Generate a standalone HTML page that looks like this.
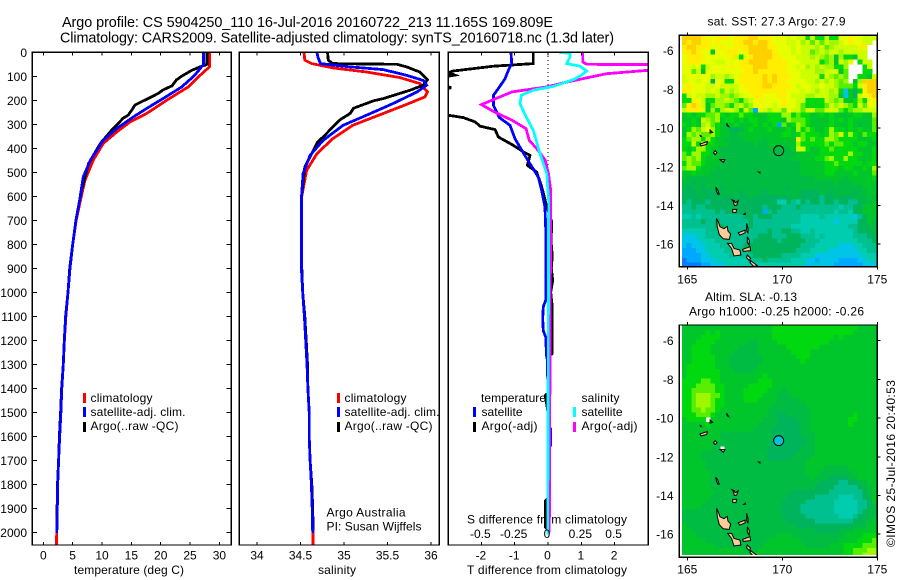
<!DOCTYPE html>
<html lang="en">
<head>
<meta charset="utf-8">
<title>Argo profile</title>
<style>
html,body{margin:0;padding:0;background:#fff;}
svg{display:block;}
text{font-family:"Liberation Sans",sans-serif;font-size:12px;fill:#000;}
.t14{font-size:14.4px;}
.mid{text-anchor:middle;}
.end{text-anchor:end;}
</style>
</head>
<body>
<svg id="chart" xmlns="http://www.w3.org/2000/svg" width="900" height="580" viewBox="0 0 900 580">
<defs>
<clipPath id="clip-t"><rect x="32" y="52" width="199" height="493"/></clipPath>
<clipPath id="clip-s"><rect x="239" y="52" width="200" height="493"/></clipPath>
<clipPath id="clip-d"><rect x="448" y="52" width="200" height="493"/></clipPath>
<clipPath id="clip-m1"><rect x="679" y="35" width="198" height="231"/></clipPath>
<clipPath id="clip-m2"><rect x="679" y="325" width="198" height="230"/></clipPath>
</defs>
<rect x="0" y="0" width="900" height="580" fill="#fff"/>
<text class="t14" x="62" y="27" textLength="491" lengthAdjust="spacing">Argo profile: CS 5904250_110 16-Jul-2016 20160722_213 11.165S 169.809E</text>
<text class="t14" x="60" y="42.5" textLength="554" lengthAdjust="spacing">Climatology: CARS2009. Satellite-adjusted climatology: synTS_20160718.nc (1.3d later)</text>

<text x="74" y="574" textLength="110" lengthAdjust="spacing">temperature (deg C)</text>
<text x="318" y="574" textLength="38" lengthAdjust="spacing">salinity</text>
<text x="467" y="574" textLength="160" lengthAdjust="spacing">T difference from climatology</text>
<text x="467" y="523.5" textLength="160" lengthAdjust="spacing">S difference from climatology</text>

<g>
<rect x="83" y="393" width="3" height="10" fill="#f00"/>
<rect x="83" y="407" width="3" height="10" fill="#00f"/>
<rect x="83" y="422" width="3" height="10" fill="#000"/>
<text x="90.5" y="402" textLength="62" lengthAdjust="spacing">climatology</text>
<text x="90.5" y="416" textLength="95" lengthAdjust="spacing">satellite-adj. clim.</text>
<text x="90.5" y="430" textLength="88" lengthAdjust="spacing">Argo(..raw -QC)</text>
</g>
<g>
<rect x="337" y="393" width="3" height="10" fill="#f00"/>
<rect x="337" y="407" width="3" height="10" fill="#00f"/>
<rect x="337" y="422" width="3" height="10" fill="#000"/>
<text x="344.5" y="402" textLength="62" lengthAdjust="spacing">climatology</text>
<text x="344.5" y="416" textLength="95" lengthAdjust="spacing">satellite-adj. clim.</text>
<text x="344.5" y="430" textLength="88" lengthAdjust="spacing">Argo(..raw -QC)</text>
</g>
<text x="326.5" y="516.5" textLength="79" lengthAdjust="spacing">Argo Australia</text>
<text x="326.5" y="530.5" textLength="95" lengthAdjust="spacing">PI: Susan Wijffels</text>
<g>
<rect x="473" y="407" width="3" height="10" fill="#00f"/>
<rect x="473" y="422" width="3" height="10" fill="#000"/>
<rect x="573" y="407" width="3" height="10" fill="#0ff"/>
<rect x="573" y="422" width="3" height="10" fill="#f0f"/>
<text x="481" y="402" textLength="65" lengthAdjust="spacing">temperature</text>
<text x="481.5" y="416" textLength="41" lengthAdjust="spacing">satellite</text>
<text x="481.5" y="430" textLength="56" lengthAdjust="spacing">Argo(-adj)</text>
<text x="581.5" y="402" textLength="38" lengthAdjust="spacing">salinity</text>
<text x="581.5" y="416" textLength="41" lengthAdjust="spacing">satellite</text>
<text x="581.5" y="430" textLength="56" lengthAdjust="spacing">Argo(-adj)</text>
</g>

<text x="707.5" y="25.5" textLength="138" lengthAdjust="spacing">sat. SST: 27.3 Argo: 27.9</text>
<text x="705" y="301" textLength="92" lengthAdjust="spacing">Altim. SLA: -0.13</text>
<text x="689" y="315.5" textLength="175" lengthAdjust="spacing">Argo h1000: -0.25 h2000: -0.26</text>
<text transform="translate(895,547) rotate(-90)" x="0" y="0" textLength="167" lengthAdjust="spacing">©IMOS 25-Jul-2016 20:40:53</text>
<g id="plots"></g>
</svg>
<script>
// Depth axis
const depthTicks = [0,100,200,300,400,500,600,700,800,900,1000,1100,1200,1300,1400,1500,1600,1700,1800,1900,2000];
const tempTicks = [0,5,10,15,20,25,30];
const salTicks = [34,34.5,35,35.5,36];
const salTickLabels = ['34','34.5','35','35.5','36'];
const diffTTicks = [-2,-1,0,1,2];
const diffSTicks = [-0.5,-0.25,0,0.25,0.5];
const diffSTickLabels = ['-0.5','-0.25','0','0.25','0.5'];
const lonTicks = [165,170,175];
const latTicks = [-6,-8,-10,-12,-14,-16];

// Temperature profiles
const tempClimDepth = [0,61,103,144,200,255,290,332,380,450,533,608,700,800,900,1000,1100,1200,1300,1400,1500,1600,1700,1800,1900,2000,2054];
const tempClimValue = [28.3,28.3,26.4,24.7,21,17.6,14.8,12.5,10.2,8.5,7.1,6.4,5.6,5.0,4.55,4.2,3.85,3.6,3.4,3.15,3.0,2.75,2.6,2.45,2.38,2.28,2.25];
const tempSatDepth = [0,50,96,144,193,234,270,318,367,450,520,608,700,800,900,1000,1100,1200,1300,1400,1500,1600,1700,1800,1900,2003];
const tempSatValue = [27.3,27.3,25.8,23.6,20.4,17.6,15.3,12.5,10.2,8,6.8,6.25,5.55,5,4.55,4.2,3.8,3.58,3.4,3.15,3.0,2.8,2.6,2.45,2.38,2.3];
const tempArgoDepth = [0,50,61,75,99,115,140,150,157,171,185,203,220,240,261,275,303,324,349,372,393,464,575,700,800,900,1000,1100,1200,1300,1400,1500,1600,1700,1800,1900,1990];
const tempArgoValue = [27.9,27.9,26.7,25.3,23.6,22.7,21.9,21.0,20.4,19.6,18.5,17.0,15.6,15.1,14.5,13.6,12.5,11.65,10.8,9.95,9.4,7.7,6.5,5.55,5,4.5,4.2,3.8,3.58,3.4,3.12,2.95,2.75,2.6,2.42,2.35,2.3];

// Salinity profiles
const salClimDepth = [0,33,47,65,82,105,130,165,186,217,255,304,360,422,492,608,900,1000,1100,1200,1300,1400,1500,1600,1700,1800,1900,2000,2054];
const salClimValue = [34.54,34.55,34.63,34.87,35.26,35.64,35.87,35.96,35.93,35.72,35.45,35.1,34.87,34.69,34.57,34.51,34.51,34.525,34.545,34.56,34.575,34.585,34.6,34.6,34.61,34.625,34.635,34.645,34.645];
const salSatDepth = [0,20,47,61,72,96,117,137,165,214,262,304,367,429,505,608,900,1000,1100,1200,1300,1400,1500,1600,1700,1800,1900,2003];
const salSatValue = [34.69,34.70,34.73,35.07,35.45,35.72,35.91,35.95,35.84,35.56,35.26,34.99,34.76,34.61,34.53,34.51,34.51,34.525,34.545,34.56,34.575,34.585,34.6,34.6,34.61,34.625,34.635,34.64];
const salArgoDepth = [0,33,47,50,61,82,114,137,158,193,202,221,233,255,282,311,331,353,372,408,478,608,900,1000,1100,1200,1300,1400,1500,1600,1700,1800,1900,1990];
const salArgoValue = [34.81,34.82,34.87,35.61,35.72,35.87,35.96,35.91,35.76,35.45,35.34,35.2,35.11,35.07,34.95,34.87,34.82,34.76,34.70,34.65,34.55,34.51,34.515,34.525,34.55,34.565,34.58,34.585,34.6,34.6,34.61,34.63,34.64,34.645];

// Differences from climatology
const diffTSatDepth = [0,47,75,110,151,179,221,272,304,360,408,464,520,575,645,770,1030,1060,1110,1160,1190,1260,1280,1420,1554,1570,1637,1650,1960];
const diffTSatValue = [-1.11,-1.09,-1.19,-1.29,-1.49,-1.64,-1.64,-1.46,-1.14,-0.99,-0.79,-0.54,-0.29,-0.19,-0.09,-0.06,-0.06,-0.14,-0.16,-0.14,-0.06,-0.05,-0.02,0,0,0.08,0.08,0.02,0];
const diffTArgoDepth = [0,47,58,78,85,95,100,108,130,148,155,200,255,262,272,290,308,322,353,388,415,429,471,499,561,630,707,760,800,850,900,950,1000,1050,1100,1150,1200,1256,1270,1420,1430,1500,1858,1870,1979,1990];
const diffTArgoValue = [-0.44,-0.44,-1.64,-2.84,-3.0,-2.8,-3,-3.3,-3.3,-2.9,-3.3,-3.4,-3.1,-3,-2.54,-2.19,-2.04,-1.59,-1.49,-1.04,-0.74,-0.54,-0.62,-0.34,-0.19,-0.06,0.11,0.1,0.1,0.13,0.1,0.14,0.08,0.12,0.13,0.12,0.13,0.12,0,0,-0.08,0,0,-0.08,-0.08,0];
const diffSArgoDepth = [0,40,50,52,65,75,89,110,124,144,165,218,249,283,318,367,401,450,505,575,2000];
const diffSArgoValue = [0.26,0.26,0.29,1.0,1.0,0.75,0.44,0.26,0.14,-0.01,-0.27,-0.5,-0.4,-0.27,-0.165,-0.14,-0.085,-0.02,0.003,0.02,0.01];
const diffSSatDepth = [0,5,20,47,58,78,96,114,142,158,179,214,262,325,422,505,617,2010];
const diffSSatValue = [0.085,0.165,0.165,0.14,0.24,0.29,0.25,0.19,0.04,-0.11,-0.2,-0.21,-0.17,-0.11,-0.06,-0.01,0.005,-0.002];

// Map colour levels, coldest to warmest ('.' = no data)
const levelCodes = '0123456789ABCDEF';
const levelColors = ['#0a7aff','#00a8ff','#00c4e8','#00ccb0','#00c090','#00b45c','#00bc42','#00c62c','#00d810','#58ee00','#a0f800','#ccff00','#e8ff00','#ffee00','#ffd000','#ffb000'];

const sstRows = [
"EEEEDDCDDDCDDDEEDDDCCCBCBB8B88B88CCDCCBBB",
"EDEEDDCDCCCDDEEDEEDCCCBBCAB9B9BAABCDCCBB.",
"DEEDDDCCDCCDDDEEEEDDCCCBCBBBAB9ABBBBBDD..",
"DDEDCC7CCDDDCDEEEEEDCCCBCBB9ABABBABBBBB..",
"CDDDDCCCCCDB8CDEEEEDDCCCBBBABA9A7A887BB..",
"CDDDCCCBBCCCDDEEEEDDDDCCCBBBB89A7BAC.8BB.",
"CCBC8BCCCCDCDDDEEEDDDDCCBCABABAA88A...8B.",
"CC9B7CCCCCCCCDDEDDDDDDCCCBBBAABBB79...88.",
"BCCCCCABBABCDDDDDEDEDDDCCBBBB8BA9A9..887B",
"BCCBCC5CC88CDDDDDEDEDDCCCCBBABABA9A.7AEEE",
"CDCCCBBCBBBBCDDDDEEDDDDCBCCBBCBBA9998BDEE",
"DDCCCBCB9BABCCDDDDDDDDCCCBCBABBAB82758DEE",
"8BCBBAABAA9ABCCDDCCCDDCBBBAABBBAA7275BCDE",
"88DCB88AABA98ABCDCCCCDCCBB8888BA9A778A8CD",
"9DEDB79AA98AB9ACCCCBCDCCB988889BABA98B9CC",
"BDDDC7A8ABBA8B91CBABB9CBB9BB99BBB989AABBB",
"7878899A8788988777888AA89887787877778877A",
"7787BA9A78878788778887A999877778787877779",
"8787AB987778777878781978A9877778777876779",
"78A9BCA87755678777877787A898778A887878779",
"7A9A99A8776677777777788789888 78A9B8A8798".replace(' ',''),
"89AA8A877666677776777777D98988AA988887778",
"88B8C8877766666766777777A8888898998878877",
"878AA8776666666666666667BB877889888887778",
"98AA8877666666666666666677777888888A88778",
"9A9A877766666666666666677777889A88A887778",
"8A998777666666666666666667777788988888788",
"9AA8777666666666666666666777778887887787A",
"77877766666666666666666667777788777787779",
"76666666666666666666666666667777776777778",
"66566666666666666666666666666666766677777",
"65665666566666666666665666666666666666777",
"55565555666656666566666665555665666656677",
"55556555555655655555555665555455655566676",
"54555455555555555555335435455455455445667",
"44544555555555555455544454444444434455777",
"44444445455555555145444444444444344356777",
"33434444444445545554444443333433333324577",
"44445445444444544444444443333333233335576",
"44444445544444544444444333333333333445566",
"33333444444444444454455443343333333345556",
"22233444444444445554445554443433333344455",
"22223334444444455555455555444333333334445",
"21222333444445555555555554443333322233444",
"11122333344444555555555544433332222223344",
"11112233334344455555544443332222222222333",
"01112223333333444544444333221222211112233",
"00001122233333333333333333223222111111222"
];

const slaRows = [
"77777777777777777778888888888888888887777",
"77777878777777777778888888888888888877777",
"77778888777777777778888888888888787777777",
"77788887777777667777888888888887777777777",
"77888877777766667777778888888777777777777",
"77888877777666667777777888877777777777777",
"77888887776666666777777788877777777777777",
"77888887776666666777777778777777777777777",
"78888887776666667777777777777777777777777",
"78888888777666677777777777777777777777777",
"78888888777777777877777777777777777777777",
"88889988777777778887777777777777777777777",
"88899998877777888887777777777777777777777",
"88999998877778888877767777777777777777777",
"889AAA99877778888777666777777777777777777",
"889AAA98877778887777666667777777777777777",
"889AAA98877777777776666666777777777777777",
"8899A998777777777766666666677777777777777",
"88899987777777777766556666677777777787777",
"78888.77777777777666555566677777777887777",
"77777877777777776666555556677777777877777",
"77777777777777766665555556677777777777777",
"77777777666666666665555556667777777777777",
"77777777666666666665555555667777777777777",
"77777776666666666655555555667777777777777",
"77777766.66666666655555556667777777777777",
"77776666666666666655555566667777777777777",
"77776666666666666655555666677777777777777",
"77777666666666666666666666777777777777777",
"77777666666666666666666666777766666777777",
"77777766666666666666666666777666666677777",
"77777766666666666666666666676665555667777",
"77777766666666666666666666666555544556677",
"77777766666666666666666666665555444445667",
"77777776666666666666666555555554444444567",
"77777766666666666666665555554444433344567",
"77777666666666666666655555444444333334457",
"77776666666666666666655554444444333334456",
"66666666666666666666655554444444333334566",
"66666666666666666666655555444444433345566",
"66666666666666666666665555554444444455667",
"76666666666666666666666655555555555566677",
"77666666666666666666666666665555566677777",
"77766666666666666666777666666666667777888",
"77777666666666666677777776666666677778889",
"77777776666666666777777777666667778888999",
"777777777777766677777777777777777788999AA",
"77777777777777777777777777777777778899AAA"
];

// Coastlines as [longitude, latitude] rings
const islandSanto = [[166.54,-14.66],[166.66,-14.92],[166.72,-15.1],[166.93,-15.2],[167.1,-15.08],[167.14,-15.33],[167.28,-15.47],[167.21,-15.75],[166.89,-15.72],[166.68,-15.5],[166.58,-15.1]];
const islandMalakula = [[167.12,-15.96],[167.33,-15.96],[167.46,-16.22],[167.77,-16.30],[167.82,-16.56],[167.46,-16.61],[167.33,-16.22]];
const islandAmbae = [[167.68,-15.41],[168.04,-15.27],[168.04,-15.41],[167.77,-15.53]];
const islandMaewo = [[168.12,-14.92],[168.2,-15.2],[168.2,-15.44],[168.13,-15.3]];
const islandPentecost = [[168.16,-15.61],[168.26,-15.8],[168.26,-16.04],[168.16,-15.9]];
const islandAmbrym = [[167.91,-16.27],[168.3,-16.13],[168.33,-16.33],[167.95,-16.37]];
const islandEpi = [[168.16,-16.56],[168.33,-16.73],[168.26,-16.85],[168.12,-16.7]];
const islandEfate = [[168.33,-16.85],[168.68,-17.1],[168.5,-17.15],[168.3,-16.95]];
const islandGaua = [[167.42,-13.78],[167.55,-13.85],[167.68,-13.75],[167.6,-13.98],[167.48,-14.0]];
const islandVanuaLava = [[167.35,-13.7],[167.5,-13.75],[167.4,-13.76]];
const islandSmallA = [[167.39,-14.2],[167.6,-14.2],[167.56,-14.37],[167.39,-14.35]];
const islandTorres = [[166.5,-13.06],[166.6,-13.2],[166.68,-13.41],[166.6,-13.41],[166.52,-13.2]];
const islandNendo = [[165.67,-10.82],[166.05,-10.69],[166.02,-10.85],[165.72,-10.92]];
const islandUtupua = [[166.72,-11.63],[166.98,-11.63],[166.9,-11.77]];
const islandVanikoro = [[166.38,-11.27],[166.47,-11.17],[166.56,-11.27],[166.47,-11.37]];
const islandDuff = [[166.2,-10.1],[166.33,-10.22],[166.2,-10.26]];
const islandTinakula = [[165.68,-10.38],[165.75,-10.42],[165.7,-10.44]];
const islandAnuta = [[167.07,-9.75],[167.18,-9.92],[167.1,-9.88]];
const islandTiny = [[168.75,-12.27],[168.82,-12.27],[168.82,-12.32]];
const islandSmallB = [[167.97,-14.46],[168.05,-14.4],[168.05,-14.46]];
const islands = [islandSanto,islandMalakula,islandAmbae,islandMaewo,islandPentecost,islandAmbrym,islandEpi,islandEfate,islandGaua,islandVanuaLava,islandSmallA,islandTorres,islandNendo,islandUtupua,islandVanikoro,islandDuff,islandTinakula,islandAnuta,islandTiny,islandSmallB];

const argoLon = [169.809];
const argoLat = [-11.165];

// Axis functions
function yDepth(d){ return 52.3 + d * 0.24; }
function xTemp(t){ return 43.3 + t * 5.87; }
function xSal(s){ return 257 + (s - 34) * 87; }
function xDiffT(t){ return 548 + t * 33.3; }
function xDiffS(s){ return 548 + s * 133.3; }
function lonX(lon){ return 687.3 + (lon - 165) * 19; }
function latY1(lat){ return 50.7 + (-6 - lat) * 19.35; }
function latY2(lat){ return 340.7 + (-6 - lat) * 19.35; }

const NS = 'http://www.w3.org/2000/svg';
const root = document.getElementById('plots');

function make(tag, attrs, parent){
  const el = document.createElementNS(NS, tag);
  for (const k in attrs) el.setAttribute(k, attrs[k]);
  (parent || root).appendChild(el);
  return el;
}

function drawBox(x0, y0, x1, y1, name){
  const el = make('rect', {x:x0, y:y0, width:x1-x0, height:y1-y0, fill:'none', stroke:'#000', 'stroke-width':1.4, 'shape-rendering':'crispEdges'});
  
  
}

function drawLine(x1, y1, x2, y2, name){
  const el = make('line', {x1:x1, y1:y1, x2:x2, y2:y2, stroke:'#000', 'stroke-width':1, 'shape-rendering':'crispEdges'});
  
  
}

function drawLabel(x, y, str, cls, name){
  const el = make('text', {x:x, y:y, 'class':cls});
  el.textContent = str;
  
  
}

function drawSeries(depths, values, xf, color, clip, name){
  const pts = depths.map(function(d, i){ return xf(values[i]).toFixed(1) + ',' + yDepth(d).toFixed(1); }).join(' ');
  const el = make('polyline', {points:pts, fill:'none', stroke:color, 'stroke-width':2.8, 'stroke-linejoin':'miter', 'shape-rendering':'crispEdges', 'clip-path':'url(#' + clip + ')'});
  
  
}

function drawHeat(rows, yf, clip, name){
  const g = make('g', {'clip-path':'url(#' + clip + ')', 'shape-rendering':'crispEdges'});
  
  
  rows.forEach(function(rowIn, r){
    const row = rowIn.padEnd(41, rowIn[rowIn.length - 1]);
    for (let c = 0; c < 41; c++){
      const idx = levelCodes.indexOf(row[c]);
      if (idx < 0) continue;
      const lon = 164.72 + c * 0.25;
      const lat = -5.2 - r * 0.25;
      const x0 = lonX(lon), x1 = lonX(lon + 0.25), y0 = yf(lat), y1 = yf(lat - 0.25);
      const cell = make('rect', {x:x0.toFixed(2), y:y0.toFixed(2), width:(x1-x0+0.3).toFixed(2), height:(y1-y0+0.3).toFixed(2), fill:levelColors[idx]}, g);
      
      
    }
  });
}

function drawIslands(yf, clip, name){
  const g = make('g', {'clip-path':'url(#' + clip + ')'});
  
  
  islands.forEach(function(ring){
    const pts = ring.map(function(p){ return lonX(p[0]).toFixed(1) + ',' + yf(p[1]).toFixed(1); }).join(' ');
    const poly = make('polygon', {points:pts, fill:'#ffcc99', stroke:'#000', 'stroke-width':1}, g);
    
    
  });
}

function drawMapFrame(yTop, yBottom, yf, labelY, name){
  drawBox(679.3, yTop, 877.3, yBottom, name + '-frame');
  lonTicks.forEach(function(lon){
    const x = lonX(lon);
    drawLine(x, yTop - 3, x, yTop, name + '-top-tick');
    drawLine(x, yBottom, x, yBottom + 3, name + '-bottom-tick');
    drawLabel(x, labelY, String(lon), 'mid', name + '-lon-label');
  });
  latTicks.forEach(function(lat){
    const y = yf(lat);
    drawLine(877.3, y, 880.3, y, name + '-right-tick');
    drawLabel(673.5, y + 4.5, String(lat), 'end', name + '-lat-label');
  });
}

// Panel frames and axes
drawSeries(tempClimDepth, tempClimValue, xTemp, '#f00', 'clip-t', 'temperature-climatology-line');
drawSeries(tempArgoDepth, tempArgoValue, xTemp, '#000', 'clip-t', 'temperature-argo-line');
drawSeries(tempSatDepth, tempSatValue, xTemp, '#00f', 'clip-t', 'temperature-satellite-line');
drawBox(32.3, 52.3, 231.3, 545, 'temperature-panel-frame');

drawSeries(salClimDepth, salClimValue, xSal, '#f00', 'clip-s', 'salinity-climatology-line');
drawSeries(salArgoDepth, salArgoValue, xSal, '#000', 'clip-s', 'salinity-argo-line');
drawSeries(salSatDepth, salSatValue, xSal, '#00f', 'clip-s', 'salinity-satellite-line');
drawBox(239.3, 52.3, 439.3, 545, 'salinity-panel-frame');

const zeroLine = make('line', {x1:xDiffT(0), y1:52, x2:xDiffT(0), y2:yDepth(1450), stroke:'#000', 'stroke-width':1, 'stroke-dasharray':'1 3', 'shape-rendering':'crispEdges'});


drawSeries(diffTArgoDepth, diffTArgoValue, xDiffT, '#000', 'clip-d', 'diff-t-argo-line');
drawSeries(diffTSatDepth, diffTSatValue, xDiffT, '#00f', 'clip-d', 'diff-t-satellite-line');
drawSeries(diffSArgoDepth, diffSArgoValue, xDiffS, '#f0f', 'clip-d', 'diff-s-argo-line');
drawSeries(diffSSatDepth, diffSSatValue, xDiffS, '#0ff', 'clip-d', 'diff-s-satellite-line');
drawBox(448.3, 52.3, 648.3, 545, 'difference-panel-frame');

depthTicks.forEach(function(d){
  const y = yDepth(d);
  drawLine(32.3, y, 37, y, 'depth-tick-left');
  drawLine(226.5, y, 231.3, y, 'depth-tick-right');
  drawLabel(27, y + 4.5, String(d), 'end', 'depth-label');
});
tempTicks.forEach(function(t){
  const x = xTemp(t);
  drawLine(x, 52.3, x, 55.5, 'temperature-top-tick');
  drawLine(x, 541.8, x, 545, 'temperature-bottom-tick');
  drawLabel(x, 559.5, String(t), 'mid', 'temperature-tick-label');
});
salTicks.forEach(function(s, i){
  const x = xSal(s);
  drawLine(x, 52.3, x, 55.5, 'salinity-top-tick');
  drawLine(x, 541.8, x, 545, 'salinity-bottom-tick');
  drawLabel(x, 559.5, salTickLabels[i], 'mid', 'salinity-tick-label');
});
diffTTicks.forEach(function(t){
  const x = xDiffT(t);
  drawLine(x, 52.3, x, 55.5, 'diff-t-top-tick');
  drawLine(x, 541.8, x, 545, 'diff-t-bottom-tick');
  drawLabel(x - 0.5, 559.5, String(t), 'mid', 'diff-t-tick-label');
});
diffSTicks.forEach(function(s, i){
  drawLabel(xDiffS(s) - 1, 538, diffSTickLabels[i], 'mid', 'diff-s-tick-label');
});

// Maps
drawHeat(sstRows, latY1, 'clip-m1', 'sst-map');
drawIslands(latY1, 'clip-m1', 'sst-map-coast');
drawMapFrame(35.3, 266.7, latY1, 283.5, 'sst-map');
const marker1 = make('circle', {cx:lonX(argoLon[0]), cy:latY1(argoLat[0]), r:5, fill:'none', stroke:'#000', 'stroke-width':1});



drawHeat(slaRows, latY2, 'clip-m2', 'sla-map');
drawIslands(latY2, 'clip-m2', 'sla-map-coast');
drawMapFrame(325, 557.3, latY2, 573.5, 'sla-map');
const marker2 = make('circle', {cx:lonX(argoLon[0]), cy:latY2(argoLat[0]), r:5, fill:'#00c4d8', stroke:'#000', 'stroke-width':1});


</script>
</body>
</html>
